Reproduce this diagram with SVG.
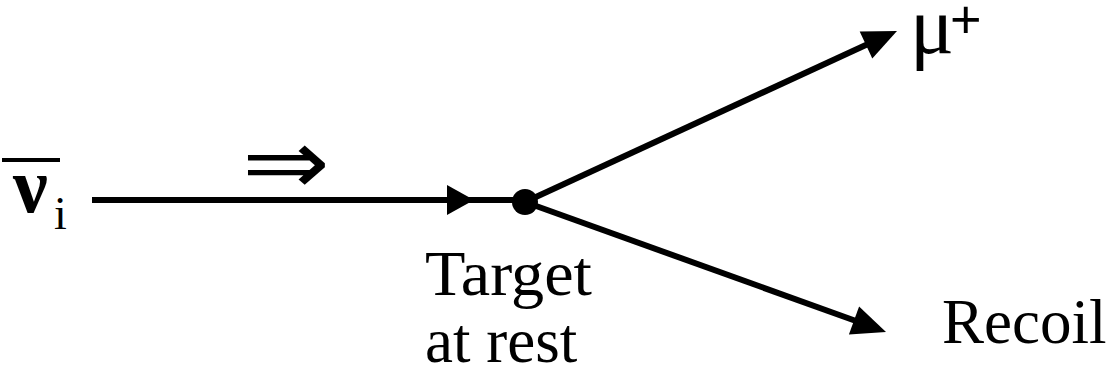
<svg xmlns="http://www.w3.org/2000/svg" width="1106" height="374" viewBox="0 0 1106 374">
<style>
.t{font-family:"Liberation Serif","Times New Roman",serif;fill:#000}
.ln{stroke:#000;stroke-width:6;fill:none}
.ah{fill:#000;stroke:none}
</style>
<rect width="1106" height="374" fill="#fff"/>
<g id="connectors">
<line class="ln" x1="92" y1="200" x2="525" y2="200"/>
<polygon class="ah" points="447,185 474,200 447,215"/>
<line class="ln" x1="525" y1="202" x2="868" y2="44"/>
<polygon class="ah" points="897,31 872.3,58.6 859.7,31.4"/>
<line class="ln" x1="525" y1="202" x2="856" y2="321"/>
<polygon class="ah" points="886,332 848.9,334.6 859.1,306.4"/>
</g>
<g id="neutrino">
<line x1="2" y1="160" x2="60" y2="160" stroke="#000" stroke-width="4"/>
<text class="t" x="13" y="212" font-size="78" font-weight="bold">ν<tspan x="54" y="229" font-size="46" font-weight="normal">i</tspan></text>
</g>
<g id="direction">
<text x="242" y="194" font-family="DejaVu Sans,sans-serif" font-size="92" textLength="88" lengthAdjust="spacingAndGlyphs">⇒</text>
</g>
<g id="target">
<circle cx="525" cy="202" r="13" fill="#000"/>
<text class="t" x="425" y="295" font-size="63" textLength="167" lengthAdjust="spacingAndGlyphs">Target</text>
<text class="t" x="425" y="362" font-size="63">at rest</text>
</g>
<g id="muon">
<text class="t" x="910" y="53" font-size="82">μ<tspan x="950" y="38" font-family="Liberation Sans,Arial,sans-serif" font-size="54">+</tspan></text>
</g>
<g id="recoil">
<text class="t" x="942" y="343" font-size="63">Recoil</text>
</g>
</svg>
